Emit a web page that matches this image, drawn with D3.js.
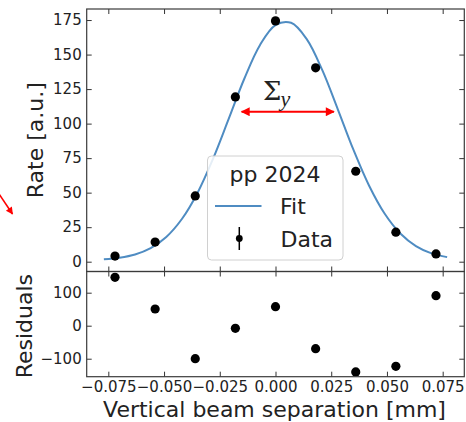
<!DOCTYPE html>
<html>
<head>
<meta charset="utf-8">
<script src="https://cdn.jsdelivr.net/npm/d3@7"></script>
<style>
  html, body { margin: 0; padding: 0; background: #fff; }
  svg { display: block; }
  text { font-family: "DejaVu Sans", sans-serif; fill: #222; }
</style>
</head>
<body>
<svg id="chart" width="466" height="422"></svg>
<script>
// ---- data ----
const separation = [-0.072, -0.054, -0.036, -0.018, 0.0, 0.018, 0.036, 0.054, 0.072];
const rate = [4.1, 14.2, 47.6, 119.3, 174.4, 140.4, 65.5, 21.4, 5.6];
const residuals = [146.7, 50.6, -100.0, -7.9, 57.6, -69.7, -140.0, -123.0, 90.9];

const fitX = [-0.077, -0.070, -0.063, -0.056, -0.049, -0.042, -0.035, -0.028, -0.021, -0.014, -0.007, 0.000,
              0.007, 0.014, 0.021, 0.028, 0.035, 0.042, 0.049, 0.056, 0.063, 0.070, 0.077];
const fitY = [1.8, 2.9, 5.2, 9.8, 17.9, 30.9, 49.8, 74.6, 103.4, 132.5, 156.8, 171.4,
              173.0, 161.2, 138.7, 110.2, 80.9, 55.0, 34.7, 20.4, 11.3, 6.0, 3.3];

const xTicks = [-0.075, -0.050, -0.025, 0.000, 0.025, 0.050, 0.075];
const xTickLabels = ["\u22120.075", "\u22120.050", "\u22120.025", "0.000", "0.025", "0.050", "0.075"];
const rateTicks = [0, 25, 50, 75, 100, 125, 150, 175];
const residTicks = [-100, 0, 100];
const residTickLabels = ["\u2212100", "0", "100"];

const legendTitle = "pp 2024";
const legendLabels = ["Fit", "Data"];
const sigmaArrowX = [-0.0152, 0.0262];
const sigmaArrowY = 108.6;

// ---- layout ----
const L = 86.7, R = 464.3, T = 9, M = 271.5, B = 376.7;
const svg = d3.select("#chart");

const x = d3.scaleLinear().domain([-0.0847, 0.0847]).range([L, R]);
const yTop = d3.scaleLinear().domain([-7.1, 183]).range([M, T]);
const yRes = d3.scaleLinear().domain([-154.5, 164.2]).range([B, M]);

const defs = svg.append("defs");
defs.append("clipPath").attr("id", "clipTop")
  .append("rect").attr("x", L).attr("y", T).attr("width", R - L).attr("height", M - T);
defs.append("clipPath").attr("id", "clipRes")
  .append("rect").attr("x", L).attr("y", M).attr("width", R - L).attr("height", B - M);
defs.append("marker").attr("id", "redHead")
  .attr("viewBox", "0 0 10 10").attr("refX", 9).attr("refY", 5)
  .attr("markerWidth", 6).attr("markerHeight", 4.5).attr("markerUnits", "strokeWidth")
  .attr("orient", "auto-start-reverse")
  .append("path").attr("d", "M0,0 L10,5 L0,10 Z").attr("fill", "red");

const tickColor = "#333";
function styleAxis(g) {
  g.select(".domain").remove();
  g.selectAll(".tick line").attr("stroke", tickColor).attr("stroke-width", 1);
  g.selectAll(".tick text").style("font-size", "15px").attr("fill", "#222");
}

// top panel axes
svg.append("g").attr("transform", `translate(${L},0)`)
  .call(d3.axisLeft(yTop).tickValues(rateTicks).tickSize(-5).tickPadding(5).tickFormat(d3.format("d")))
  .call(styleAxis);
svg.append("g").attr("transform", `translate(${R},0)`)
  .call(d3.axisRight(yTop).tickValues(rateTicks).tickSize(-5).tickFormat(""))
  .call(styleAxis);
svg.append("g").attr("transform", `translate(0,${T})`)
  .call(d3.axisTop(x).tickValues(xTicks).tickSize(-5).tickFormat(""))
  .call(styleAxis);
svg.append("g").attr("transform", `translate(0,${M})`)
  .call(d3.axisBottom(x).tickValues(xTicks).tickSize(-5).tickFormat(""))
  .call(styleAxis);

// residual panel axes
svg.append("g").attr("transform", `translate(${L},0)`)
  .call(d3.axisLeft(yRes).tickValues(residTicks).tickSize(-5).tickPadding(5)
    .tickFormat((d, i) => residTickLabels[i]))
  .call(styleAxis);
svg.append("g").attr("transform", `translate(${R},0)`)
  .call(d3.axisRight(yRes).tickValues(residTicks).tickSize(-5).tickFormat(""))
  .call(styleAxis);
svg.append("g").attr("transform", `translate(0,${M})`)
  .call(d3.axisTop(x).tickValues(xTicks).tickSize(-5).tickFormat(""))
  .call(styleAxis);
svg.append("g").attr("transform", `translate(0,${B})`)
  .call(d3.axisBottom(x).tickValues(xTicks).tickSize(-5).tickPadding(5)
    .tickFormat((d, i) => xTickLabels[i]))
  .call(styleAxis);

// fit curve
const fitData = fitX.map((d, i) => [d, fitY[i]]);
svg.append("path").datum(fitData)
  .attr("clip-path", "url(#clipTop)")
  .attr("fill", "none").attr("stroke", "#4f8cc2").attr("stroke-width", 2)
  .attr("d", d3.line().x(d => x(d[0])).y(d => yTop(d[1])).curve(d3.curveCatmullRom));

// data points
svg.append("g").selectAll("circle").data(separation).join("circle")
  .attr("cx", d => x(d)).attr("cy", (d, i) => yTop(rate[i])).attr("r", 4.6).attr("fill", "#000");

// residual points
svg.append("g").attr("clip-path", "url(#clipRes)").selectAll("circle").data(separation).join("circle")
  .attr("cx", d => x(d)).attr("cy", (d, i) => yRes(residuals[i])).attr("r", 4.6).attr("fill", "#000");

// spines
[[T, M], [M, B]].forEach(([a, b]) => {
  svg.append("rect").attr("x", L).attr("y", a).attr("width", R - L).attr("height", b - a)
    .attr("fill", "none").attr("stroke", "#3a3a3a").attr("stroke-width", 1.2);
});

// sigma annotation
svg.append("line")
  .attr("x1", x(sigmaArrowX[0])).attr("x2", x(sigmaArrowX[1]))
  .attr("y1", yTop(sigmaArrowY)).attr("y2", yTop(sigmaArrowY))
  .attr("stroke", "red").attr("stroke-width", 2)
  .attr("marker-start", "url(#redHead)").attr("marker-end", "url(#redHead)");
const sig = svg.append("text").attr("x", 263).attr("y", 100)
  .style("font-family", "'DejaVu Serif', 'Liberation Serif', serif").style("font-size", "26px").attr("fill", "#000");
sig.append("tspan").text("\u03A3");
sig.append("tspan").attr("dy", 6).attr("dx", -1).style("font-size", "22px").style("font-style", "italic")
  .style("font-family", "'Liberation Serif', serif").text("y");

// stray red arrow at far left
svg.append("line").attr("x1", -5).attr("y1", 188).attr("x2", 12.5).attr("y2", 214)
  .attr("stroke", "red").attr("stroke-width", 1.6).attr("marker-end", "url(#redHead)");

// legend
const lg = svg.append("g");
lg.append("rect").attr("x", 207.5).attr("y", 156).attr("width", 135.5).attr("height", 104)
  .attr("rx", 4).attr("fill", "#fff").attr("fill-opacity", 0.85).attr("stroke", "#d0d0d0").attr("stroke-width", 1);
lg.append("text").attr("x", 275).attr("y", 181.5).attr("text-anchor", "middle")
  .style("font-size", "22px").text(legendTitle);
lg.append("line").attr("x1", 215).attr("x2", 261.5).attr("y1", 206).attr("y2", 206)
  .attr("stroke", "#4f8cc2").attr("stroke-width", 2);
lg.append("text").attr("x", 280).attr("y", 214).style("font-size", "22px").text(legendLabels[0]);
lg.append("line").attr("x1", 239.3).attr("x2", 239.3).attr("y1", 227).attr("y2", 250)
  .attr("stroke", "#000").attr("stroke-width", 1.5);
lg.append("circle").attr("cx", 239.3).attr("cy", 238.5).attr("r", 3.4).attr("fill", "#000");
lg.append("text").attr("x", 280.5).attr("y", 246.5).style("font-size", "22px").text(legendLabels[1]);

// axis labels
svg.append("text").attr("transform", `translate(43,${(T + M) / 2}) rotate(-90)`)
  .attr("text-anchor", "middle").style("font-size", "22px").text("Rate [a.u.]");
svg.append("text").attr("transform", `translate(31.5,${(M + B) / 2 + 2}) rotate(-90)`)
  .attr("text-anchor", "middle").style("font-size", "22px").text("Residuals");
svg.append("text").attr("x", (L + R) / 2 - 1).attr("y", 417)
  .attr("text-anchor", "middle").style("font-size", "22px").text("Vertical beam separation [mm]");
</script>
</body>
</html>
